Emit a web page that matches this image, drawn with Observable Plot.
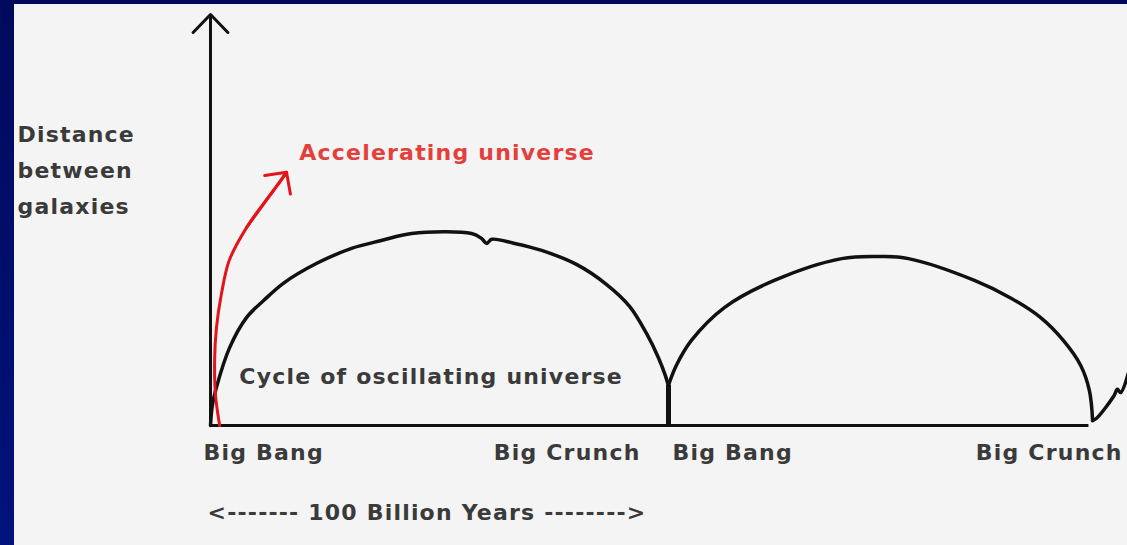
<!DOCTYPE html>
<html>
<head>
<meta charset="utf-8">
<script src="https://cdn.jsdelivr.net/npm/d3@7"></script>
<script src="https://cdn.jsdelivr.net/npm/@observablehq/plot@0.6"></script>
<style>
  html, body { margin: 0; padding: 0; }
  body {
    width: 1127px; height: 545px; overflow: hidden;
    background: linear-gradient(#000a5c, #00137c);
    position: relative;
  }
  #chart { position: absolute; left: 14px; top: 4px; width: 1113px; height: 541px; background: #f4f4f4; }
  #chart svg { display: block; }
  #chart svg text { letter-spacing: 1.2px; }
</style>
</head>
<body>
<div id="chart"></div>
<script>
// Time runs in billions of years; distance between galaxies is in arbitrary units.
const firstCycleTime = [0, 0.4, 1.3, 4.2, 7.9, 11.6, 15.9, 23.1, 30.8, 37.3, 43.9, 57.0, 59.2, 60.3, 61.4, 66.4, 72.3, 79.9, 86.5, 91.5, 95.2, 97.8, 99.3, 100];
const firstCycleDistance = [0, 4.9, 9.3, 19.0, 26.3, 30.4, 34.6, 39.4, 43.1, 45.0, 46.7, 46.7, 45.5, 44.3, 45.3, 44.3, 42.6, 39.2, 34.3, 29.0, 22.4, 16.5, 12.2, 9.6];

const secondCycleTime = [100, 101.7, 105.0, 112.2, 123.1, 137.8, 146.5, 152.4, 166.8, 174.9, 181.2, 186.2, 190.0, 191.9, 192.6];
const secondCycleDistance = [9.8, 14.6, 20.7, 28.7, 35.3, 40.6, 41.1, 40.6, 35.3, 30.9, 26.3, 20.7, 14.6, 8.5, 1.2];

const nextCycleTime = [192.6, 193.4, 197.2, 198.0, 198.7, 200.4];
const nextCycleDistance = [1.2, 1.7, 7.1, 8.8, 8.0, 12.7];

const acceleratingTime = [2.0, 1.1, 0.9, 1.3, 2.4, 4.1, 7.9, 11.6, 14.6, 16.6];
const acceleratingDistance = [0, 7.3, 15.8, 23.8, 32.1, 40.2, 48.2, 54.0, 58.4, 61.6];

const events = ["Big Bang", "Big Crunch", "Big Bang", "Big Crunch"];
const eventTimes = [0, 100, 100, 192.6];

const axisTop = 100;
const yLabel = "Distance\nbetween\ngalaxies";
const spanLabel = "<------- 100 Billion Years -------->";

// Build tables for the marks from the arrays above
const toPoints = (ts, ds, name) => ts.map((t, i) => ({t, d: ds[i], name}));
const cycles = [
  ...toPoints(firstCycleTime, firstCycleDistance, "first"),
  ...toPoints(secondCycleTime, secondCycleDistance, "second"),
  ...toPoints(nextCycleTime, nextCycleDistance, "next")
];
const accelerating = toPoints(acceleratingTime, acceleratingDistance, "accelerating");
const headFrom = accelerating[6];
const headTo = accelerating[accelerating.length - 1];

const font = {fontFamily: "DejaVu Sans", fontWeight: "bold", fontSize: 22};
const ink = "#111";
const textInk = "#3a3a3a";

const eventLabel = (i, anchor, dx) =>
  Plot.text([i], {
    x: (j) => eventTimes[j], y: () => 0, text: (j) => events[j],
    textAnchor: anchor, lineAnchor: "bottom", dx, dy: 34, fill: textInk, ...font
  });

const chart = Plot.plot({
  width: 1113,
  height: 541,
  marginLeft: 196,
  marginRight: 1,
  marginTop: 10,
  marginBottom: 120,
  style: {background: "#f4f4f4", overflow: "visible"},
  x: {domain: [0, 200], axis: null},
  y: {domain: [0, 100], axis: null},
  marks: [
    // time axis and the axis of distance, with its arrowhead
    Plot.ruleY([0], {x1: () => 0, x2: () => 191.8, stroke: ink, strokeWidth: 3}),
    Plot.arrow([{x1: 0, y1: 0, x2: 0, y2: axisTop}], {
      x1: "x1", y1: "y1", x2: "x2", y2: "y2",
      stroke: ink, strokeWidth: 3, headLength: 12.5, headAngle: 88
    }),
    // cycles of the oscillating universe
    Plot.line(cycles, {x: "t", y: "d", z: "name", stroke: ink, strokeWidth: 3.5, curve: "catmull-rom"}),
    Plot.ruleX([eventTimes[2]], {y1: () => 0, y2: () => secondCycleDistance[0], stroke: ink, strokeWidth: 5}),
    // the accelerating universe
    Plot.line(accelerating, {x: "t", y: "d", stroke: "#e3141b", strokeWidth: 3, curve: "catmull-rom"}),
    Plot.arrow([{x1: headFrom.t, y1: headFrom.d, x2: headTo.t, y2: headTo.d}], {
      x1: "x1", y1: "y1", x2: "x2", y2: "y2",
      stroke: "#e3141b", strokeWidth: 3, headLength: 11, headAngle: 92
    }),
    // annotations
    Plot.text([yLabel], {
      frameAnchor: "top-left", textAnchor: "start", lineAnchor: "top",
      dx: -193, dy: 102, lineHeight: 1.64, fill: textInk, ...font
    }),
    Plot.text(["Accelerating universe"], {
      x: () => 19.4, y: () => 64.7, textAnchor: "start", lineAnchor: "bottom",
      fill: "#e2403c", ...font
    }),
    Plot.text(["Cycle of oscillating universe"], {
      x: () => 6.3, y: () => 10.0, textAnchor: "start", lineAnchor: "bottom",
      fill: textInk, ...font
    }),
    eventLabel(0, "start", -7),
    eventLabel(1, "end", -28),
    eventLabel(2, "start", 4),
    eventLabel(3, "end", 30),
    Plot.text([spanLabel], {
      x: () => 0, y: () => 0, textAnchor: "start", lineAnchor: "bottom",
      dx: -3, dy: 94, fill: textInk, ...font
    })
  ]
});

document.getElementById("chart").appendChild(chart);
</script>
</body>
</html>
